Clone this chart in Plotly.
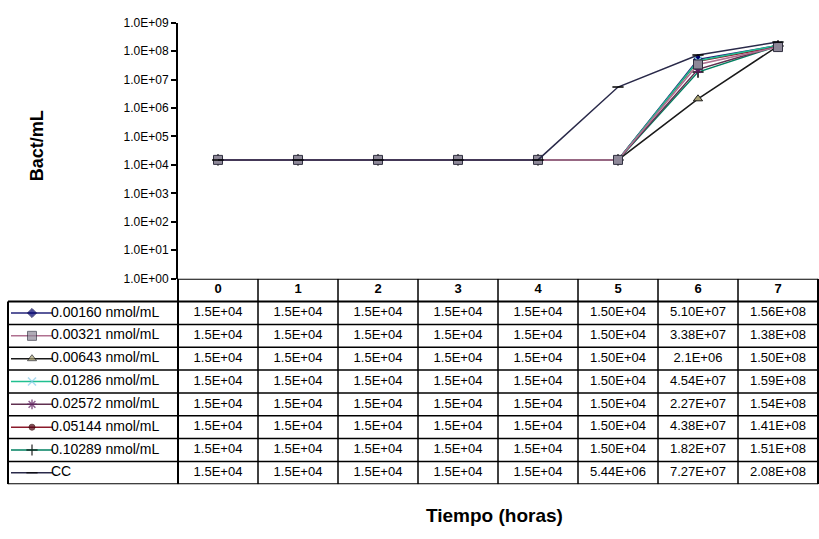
import plotly.graph_objects as go

# ---------------- data ----------------
hours = [0, 1, 2, 3, 4, 5, 6, 7]
series_names = ["0.00160 nmol/mL", "0.00321 nmol/mL", "0.00643 nmol/mL", "0.01286 nmol/mL",
                "0.02572 nmol/mL", "0.05144 nmol/mL", "0.10289 nmol/mL", "CC"]
v_00160 = ["1.5E+04", "1.5E+04", "1.5E+04", "1.5E+04", "1.5E+04", "1.50E+04", "5.10E+07", "1.56E+08"]
v_00321 = ["1.5E+04", "1.5E+04", "1.5E+04", "1.5E+04", "1.5E+04", "1.50E+04", "3.38E+07", "1.38E+08"]
v_00643 = ["1.5E+04", "1.5E+04", "1.5E+04", "1.5E+04", "1.5E+04", "1.50E+04", "2.1E+06", "1.50E+08"]
v_01286 = ["1.5E+04", "1.5E+04", "1.5E+04", "1.5E+04", "1.5E+04", "1.50E+04", "4.54E+07", "1.59E+08"]
v_02572 = ["1.5E+04", "1.5E+04", "1.5E+04", "1.5E+04", "1.5E+04", "1.50E+04", "2.27E+07", "1.54E+08"]
v_05144 = ["1.5E+04", "1.5E+04", "1.5E+04", "1.5E+04", "1.5E+04", "1.50E+04", "4.38E+07", "1.41E+08"]
v_10289 = ["1.5E+04", "1.5E+04", "1.5E+04", "1.5E+04", "1.5E+04", "1.50E+04", "1.82E+07", "1.51E+08"]
v_cc = ["1.5E+04", "1.5E+04", "1.5E+04", "1.5E+04", "1.5E+04", "5.44E+06", "7.27E+07", "2.08E+08"]
all_values = [v_00160, v_00321, v_00643, v_01286, v_02572, v_05144, v_10289, v_cc]
y_exponents = [0, 1, 2, 3, 4, 5, 6, 7, 8, 9]
y_ticklabels = ["1.0E+00", "1.0E+01", "1.0E+02", "1.0E+03", "1.0E+04",
                "1.0E+05", "1.0E+06", "1.0E+07", "1.0E+08", "1.0E+09"]
y_title = "Bact/mL"
x_title = "Tiempo (horas)"

# ---------------- styles ----------------
line_colors = ["#23237A", "#B07090", "#1A1A1A", "#20C090", "#603050", "#8B1A2B", "#008060", "#2A2A4A"]
symbols = ["diamond", "square", "triangle-up", "x-thin-open", "asterisk-open", "circle",
           "cross-thin-open", "line-ew-open"]
marker_size = [7, 9, 8, 8, 8, 6, 8, 8]
marker_fill = ["#000070", "#8E8898", "#A8A070", "#88CCE8", "#602060", "#500010", "#000000", "#000000"]
marker_line = ["#000040", "#303040", "#202020", "#88CCE8", "#602060", "#300000", "#000000", "#000000"]
draw_order = [5, 0, 2, 6, 3, 4, 1, 7]

FONT = "Liberation Sans, Arial, sans-serif"
W, H = 819, 539
PL, PR, PT, PB = 178, 818, 16, 279   # plot area in px
TB = 490                              # table bottom px
COLW = (PR - PL) / len(hours)
LEG_L = 8


def px2x(px):
    return (px - PL) / COLW - 0.5


fig = go.Figure()

# ---------------- chart lines ----------------
for i in draw_order:
    name, vals = series_names[i], all_values[i]
    openm = symbols[i].endswith("open")
    fig.add_trace(go.Scatter(
        x=hours, y=[float(v) for v in vals], mode="lines+markers", name=name,
        line=dict(color=line_colors[i], width=1.5),
        marker=dict(symbol=symbols[i], size=marker_size[i], color=marker_fill[i],
                    line=dict(color=marker_line[i], width=1.5 if openm else 1)),
        xaxis="x", yaxis="y", showlegend=False, hoverinfo="skip"))

# ---------------- data table ----------------
fig.add_trace(go.Scatter(
    x=hours, y=[0] * len(hours), mode="text", text=["<b>%d</b>" % h for h in hours],
    textfont=dict(family=FONT, size=13, color="black"),
    xaxis="x2", yaxis="y2", showlegend=False, hoverinfo="skip"))

for r, (name, vals) in enumerate(zip(series_names, all_values), start=1):
    fig.add_trace(go.Scatter(
        x=hours, y=[r] * len(hours), mode="text", text=vals,
        textfont=dict(family=FONT, size=13, color="black"),
        xaxis="x2", yaxis="y2", showlegend=False, hoverinfo="skip"))
    i = r - 1
    openm = symbols[i].endswith("open")
    fig.add_trace(go.Scatter(
        x=[px2x(11), px2x(32), px2x(53)], y=[r, r, r], mode="lines+markers",
        line=dict(color=line_colors[i], width=1.5),
        marker=dict(symbol=symbols[i], size=[0, marker_size[i], 0], color=marker_fill[i],
                    line=dict(color=marker_line[i], width=1.5 if openm else 1)),
        xaxis="x2", yaxis="y2", showlegend=False, hoverinfo="skip"))
    fig.add_trace(go.Scatter(
        x=[px2x(51)], y=[r], mode="text", text=[name], textposition="middle right",
        textfont=dict(family=FONT, size=14, color="black"),
        xaxis="x2", yaxis="y2", showlegend=False, hoverinfo="skip"))

nrows = len(series_names) + 1
shapes = []
x_left = px2x(LEG_L)
x_right = len(hours) - 0.5
for k in range(nrows + 1):
    y = k - 0.5
    x0 = -0.5 if k == 0 else x_left
    w = 2 if k in (0, 1, nrows) else 1.5
    shapes.append(dict(type="line", xref="x2", yref="y2", x0=x0, x1=x_right, y0=y, y1=y,
                       line=dict(color="black", width=w)))
for c in range(len(hours) + 1):
    x = c - 0.5
    w = 2 if c in (0, len(hours)) else 1.5
    shapes.append(dict(type="line", xref="x2", yref="y2", x0=x, x1=x, y0=-0.5, y1=nrows - 0.5,
                       line=dict(color="black", width=w)))
shapes.append(dict(type="line", xref="x2", yref="y2", x0=x_left, x1=x_left, y0=0.5, y1=nrows - 0.5,
                   line=dict(color="black", width=2)))

annotations = [
    dict(text="<b>%s</b>" % y_title, x=37 / W, y=1 - 143 / H, xref="paper", yref="paper",
         xanchor="center", yanchor="middle",
         textangle=-90, showarrow=False, font=dict(family=FONT, size=18, color="black")),
    dict(text="<b>%s</b>" % x_title, x=495 / W, y=1 - 522 / H, xref="paper", yref="paper",
         xanchor="center", yanchor="middle",
         showarrow=False, font=dict(family=FONT, size=19, color="black")),
]

fig.update_layout(
    width=W, height=H, margin=dict(l=0, r=0, t=0, b=0),
    paper_bgcolor="white", plot_bgcolor="rgba(0,0,0,0)",
    showlegend=False, shapes=shapes, annotations=annotations,
    xaxis=dict(domain=[PL / W, PR / W], range=[-0.5, len(hours) - 0.5], visible=False,
               anchor="y", fixedrange=True),
    yaxis=dict(domain=[1 - PB / H, 1 - PT / H], type="log", range=[0, 9],
               tickvals=[10 ** e for e in y_exponents], ticktext=y_ticklabels,
               ticks="outside", ticklen=5, tickcolor="black", tickwidth=1.5,
               showline=True, linecolor="black", linewidth=2, showgrid=False, zeroline=False,
               tickfont=dict(family=FONT, size=12, color="black"), anchor="x", fixedrange=True),
    xaxis2=dict(domain=[0, 1], range=[px2x(0), px2x(W)], visible=False, anchor="y2",
                fixedrange=True),
    yaxis2=dict(domain=[1 - TB / H, 1 - PB / H], range=[nrows - 0.5, -0.5], visible=False,
                anchor="x2", fixedrange=True),
)

fig.write_html("out.html", config={"displayModeBar": False})
